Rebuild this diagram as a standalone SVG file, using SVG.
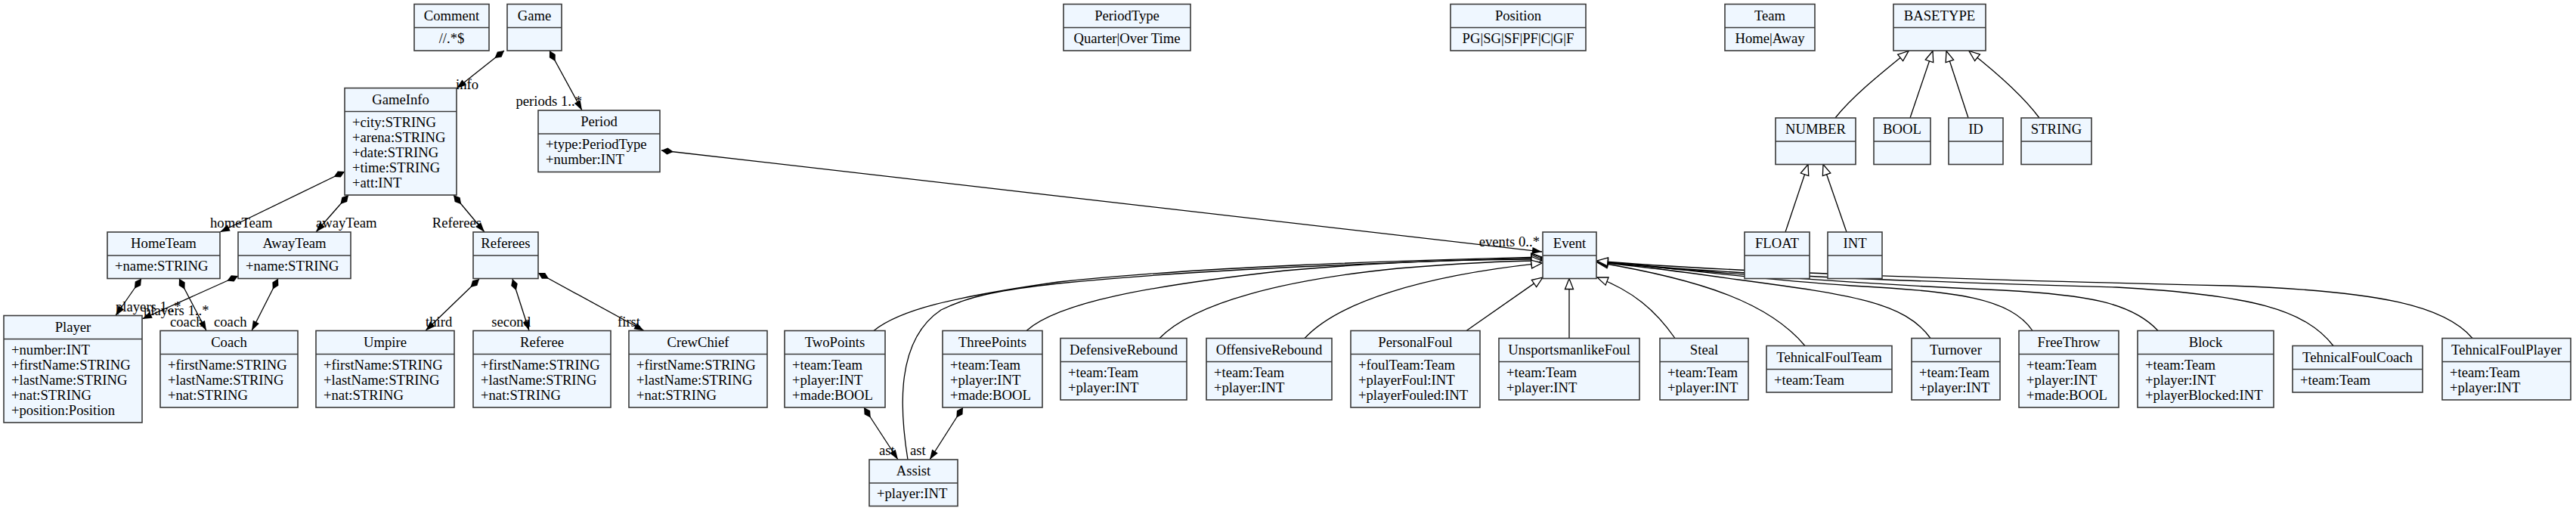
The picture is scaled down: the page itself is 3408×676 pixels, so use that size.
<svg xmlns="http://www.w3.org/2000/svg" width="3408" height="676" viewBox="0 0 3408 676">
<defs>
<style>
.box{fill:#eff7ff;stroke:#3a3a3a;stroke-width:1.6}
.sep{stroke:#3a3a3a;stroke-width:1.6}
text{font-family:"Liberation Serif","Times New Roman",serif;font-size:18.67px;fill:#000}
.h{text-anchor:middle}
.e{text-anchor:end}
.edge{fill:none;stroke:#000;stroke-width:1.3}
.comp{marker-start:url(#dia);marker-end:url(#arr)}
.gen{marker-end:url(#tri)}
</style>
<marker id="dia" markerUnits="userSpaceOnUse" orient="auto" refX="0" refY="0" markerWidth="1" markerHeight="1" style="overflow:visible"><path d="M0,0 L8,-4.5 L16,0 L8,4.5 Z" fill="#000"/></marker>
<marker id="arr" markerUnits="userSpaceOnUse" orient="auto" refX="0" refY="0" markerWidth="1" markerHeight="1" style="overflow:visible"><path d="M-13,-4.5 L0,0 L-13,4.5 Z" fill="#000"/></marker>
<marker id="tri" markerUnits="userSpaceOnUse" orient="auto" refX="0" refY="0" markerWidth="1" markerHeight="1" style="overflow:visible"><path d="M-14,-5.5 L0,0 L-14,5.5 Z" fill="#fff" stroke="#000" stroke-width="1.3"/></marker>
</defs>
<rect width="3408" height="676" fill="#fff"/>

<g id="connectors">
<path class="edge comp" d="M667,67 L604,117"/>
<path class="edge comp" d="M727,67 L770,146"/>
<path class="edge comp" d="M875,199 L2040,333"/>
<path class="edge comp" d="M456,227 L291,307"/>
<path class="edge comp" d="M461,258 L418,307"/>
<path class="edge comp" d="M600,258 L641,307"/>
<path class="edge comp" d="M187,368.5 L153,417.5"/>
<path class="edge comp" d="M237,368.5 L273,437.5"/>
<path class="edge comp" d="M315,365 L188,422"/>
<path class="edge comp" d="M368,368.5 L333,437.5"/>
<path class="edge comp" d="M634,369 L563,437.5"/>
<path class="edge comp" d="M678,369 L700,437.5"/>
<path class="edge comp" d="M712,361 L852,437.5"/>
<path class="edge comp" d="M1143,539 L1188,608"/>
<path class="edge comp" d="M1274,539 L1230,608"/>

<path class="edge gen" d="M2428,156 C2452,126 2490,96 2525,67.5"/>
<path class="edge gen" d="M2527,156 L2557,67.5"/>
<path class="edge gen" d="M2604,156 L2575,67.5"/>
<path class="edge gen" d="M2698,156 C2675,125 2640,95 2605,67.5"/>
<path class="edge gen" d="M2362,307 L2392,217.5"/>
<path class="edge gen" d="M2443,307 L2412,217.5"/>

<path class="edge gen" d="M1156,437.5 C1190,410 1260,393 1400,373 C1600,352 1850,345 2040,340"/>
<path class="edge gen" d="M1201,608 C1190,540 1185,450 1245,410 C1285,390 1330,383 1400,375 C1600,355 1850,347 2040,341"/>
<path class="edge gen" d="M1358,437.5 C1400,400 1520,378 1700,358 C1850,345 1950,343 2040,343"/>
<path class="edge gen" d="M1534,447.5 C1580,400 1700,370 1850,355 C1950,347 2000,345 2040,345"/>
<path class="edge gen" d="M1726,447.5 C1770,400 1880,365 2040,348"/>
<path class="edge gen" d="M1940,437.5 L2041,367"/>
<path class="edge gen" d="M2076,447.5 L2076,368.5"/>
<path class="edge gen" d="M2216,447.5 C2190,410 2160,385 2113,367"/>
<path class="edge gen" d="M2388,457.5 C2340,400 2250,370 2113,347"/>
<path class="edge gen" d="M2554,447.5 C2520,400 2450,390 2300,370 C2200,356 2150,350 2113,347"/>
<path class="edge gen" d="M2689,437.5 C2660,395 2590,385 2450,378 C2300,368 2200,352 2113,346"/>
<path class="edge gen" d="M2855,437.5 C2820,400 2760,390 2650,384 C2450,375 2250,360 2113,346"/>
<path class="edge gen" d="M3087,457.5 C3050,410 2980,390 2800,380 C2500,372 2250,360 2113,346"/>
<path class="edge gen" d="M3271,447.5 C3235,405 3150,385 2950,378 C2600,370 2250,358 2113,345"/>

<text x="603" y="117.5">info</text>
<text class="e" x="770" y="140">periods 1..*</text>
<text class="e" x="2037" y="326">events 0..*</text>
<text x="278" y="301">homeTeam</text>
<text x="418" y="301">awayTeam</text>
<text class="e" x="637" y="301">Referees</text>
<text x="153" y="412">players 1..*</text>
<text x="225" y="432">coach</text>
<text x="190" y="417">players 1..*</text>
<text x="283" y="432">coach</text>
<text x="563" y="432">third</text>
<text class="e" x="702" y="432">second</text>
<text x="817" y="432">first</text>
<text x="1163" y="602">ast</text>
<text x="1204" y="602">ast</text>
</g>

<g id="Comment"><rect class="box" x="548" y="5.5" width="99" height="61.5"/><line class="sep" x1="548" y1="36.5" x2="647" y2="36.5"/><text class="h" x="597.5" y="26.5">Comment</text><text class="h" x="597.5" y="56.5" fill="#444">//.*$</text></g>
<g id="Game"><rect class="box" x="671" y="5.5" width="72" height="61.5"/><line class="sep" x1="671" y1="36.5" x2="743" y2="36.5"/><text class="h" x="707" y="26.5">Game</text></g>
<g id="PeriodType"><rect class="box" x="1407" y="5.5" width="168" height="61.5"/><line class="sep" x1="1407" y1="36.5" x2="1575" y2="36.5"/><text class="h" x="1491" y="26.5">PeriodType</text><text class="h" x="1491" y="56.5">Quarter|Over Time</text></g>
<g id="Position"><rect class="box" x="1919" y="5.5" width="179" height="61.5"/><line class="sep" x1="1919" y1="36.5" x2="2098" y2="36.5"/><text class="h" x="2008.5" y="26.5">Position</text><text class="h" x="2008.5" y="56.5">PG|SG|SF|PF|C|G|F</text></g>
<g id="Team"><rect class="box" x="2282" y="5.5" width="119" height="61.5"/><line class="sep" x1="2282" y1="36.5" x2="2401" y2="36.5"/><text class="h" x="2341.5" y="26.5">Team</text><text class="h" x="2341.5" y="56.5">Home|Away</text></g>
<g id="BASETYPE"><rect class="box" x="2505" y="5.5" width="122" height="61.5"/><line class="sep" x1="2505" y1="36.5" x2="2627" y2="36.5"/><text class="h" x="2566" y="26.5">BASETYPE</text></g>

<g id="GameInfo"><rect class="box" x="456" y="116.5" width="148" height="141.5"/><line class="sep" x1="456" y1="147.5" x2="604" y2="147.5"/><text class="h" x="530" y="137.5">GameInfo</text><text x="466" y="167.5">+city:STRING</text><text x="466" y="187.5">+arena:STRING</text><text x="466" y="207.5">+date:STRING</text><text x="466" y="227.5">+time:STRING</text><text x="466" y="247.5">+att:INT</text></g>
<g id="Period"><rect class="box" x="712" y="146" width="161" height="81.5"/><line class="sep" x1="712" y1="177" x2="873" y2="177"/><text class="h" x="792.5" y="167">Period</text><text x="722" y="197">+type:PeriodType</text><text x="722" y="217">+number:INT</text></g>

<g id="NUMBER"><rect class="box" x="2349" y="156" width="106" height="61.5"/><line class="sep" x1="2349" y1="187" x2="2455" y2="187"/><text class="h" x="2402" y="177">NUMBER</text></g>
<g id="BOOL"><rect class="box" x="2479" y="156" width="75" height="61.5"/><line class="sep" x1="2479" y1="187" x2="2554" y2="187"/><text class="h" x="2516.5" y="177">BOOL</text></g>
<g id="ID"><rect class="box" x="2578" y="156" width="72" height="61.5"/><line class="sep" x1="2578" y1="187" x2="2650" y2="187"/><text class="h" x="2614" y="177">ID</text></g>
<g id="STRING"><rect class="box" x="2674" y="156" width="93" height="61.5"/><line class="sep" x1="2674" y1="187" x2="2767" y2="187"/><text class="h" x="2720.5" y="177">STRING</text></g>

<g id="HomeTeam"><rect class="box" x="142" y="307" width="149" height="61.5"/><line class="sep" x1="142" y1="338" x2="291" y2="338"/><text class="h" x="216.5" y="328">HomeTeam</text><text x="152" y="358">+name:STRING</text></g>
<g id="AwayTeam"><rect class="box" x="315" y="307" width="149" height="61.5"/><line class="sep" x1="315" y1="338" x2="464" y2="338"/><text class="h" x="389.5" y="328">AwayTeam</text><text x="325" y="358">+name:STRING</text></g>
<g id="Referees"><rect class="box" x="626" y="307" width="86" height="61.5"/><line class="sep" x1="626" y1="338" x2="712" y2="338"/><text class="h" x="669" y="328">Referees</text></g>
<g id="Event"><rect class="box" x="2041" y="307" width="71" height="61.5"/><line class="sep" x1="2041" y1="338" x2="2112" y2="338"/><text class="h" x="2076.5" y="328">Event</text></g>
<g id="FLOAT"><rect class="box" x="2308" y="307" width="86" height="61.5"/><line class="sep" x1="2308" y1="338" x2="2394" y2="338"/><text class="h" x="2351" y="328">FLOAT</text></g>
<g id="INT"><rect class="box" x="2418" y="307" width="72" height="61.5"/><line class="sep" x1="2418" y1="338" x2="2490" y2="338"/><text class="h" x="2454" y="328">INT</text></g>

<g id="Player"><rect class="box" x="5" y="417.5" width="183" height="141.5"/><line class="sep" x1="5" y1="448.5" x2="188" y2="448.5"/><text class="h" x="96.5" y="438.5">Player</text><text x="15" y="468.5">+number:INT</text><text x="15" y="488.5">+firstName:STRING</text><text x="15" y="508.5">+lastName:STRING</text><text x="15" y="528.5">+nat:STRING</text><text x="15" y="548.5">+position:Position</text></g>
<g id="Coach"><rect class="box" x="212" y="437.5" width="182" height="101.5"/><line class="sep" x1="212" y1="468.5" x2="394" y2="468.5"/><text class="h" x="303" y="458.5">Coach</text><text x="222" y="488.5">+firstName:STRING</text><text x="222" y="508.5">+lastName:STRING</text><text x="222" y="528.5">+nat:STRING</text></g>
<g id="Umpire"><rect class="box" x="418" y="437.5" width="183" height="101.5"/><line class="sep" x1="418" y1="468.5" x2="601" y2="468.5"/><text class="h" x="509.5" y="458.5">Umpire</text><text x="428" y="488.5">+firstName:STRING</text><text x="428" y="508.5">+lastName:STRING</text><text x="428" y="528.5">+nat:STRING</text></g>
<g id="Referee"><rect class="box" x="626" y="437.5" width="182" height="101.5"/><line class="sep" x1="626" y1="468.5" x2="808" y2="468.5"/><text class="h" x="717" y="458.5">Referee</text><text x="636" y="488.5">+firstName:STRING</text><text x="636" y="508.5">+lastName:STRING</text><text x="636" y="528.5">+nat:STRING</text></g>
<g id="CrewChief"><rect class="box" x="832" y="437.5" width="183" height="101.5"/><line class="sep" x1="832" y1="468.5" x2="1015" y2="468.5"/><text class="h" x="923.5" y="458.5">CrewChief</text><text x="842" y="488.5">+firstName:STRING</text><text x="842" y="508.5">+lastName:STRING</text><text x="842" y="528.5">+nat:STRING</text></g>
<g id="TwoPoints"><rect class="box" x="1038" y="437.5" width="133" height="101.5"/><line class="sep" x1="1038" y1="468.5" x2="1171" y2="468.5"/><text class="h" x="1104.5" y="458.5">TwoPoints</text><text x="1048" y="488.5">+team:Team</text><text x="1048" y="508.5">+player:INT</text><text x="1048" y="528.5">+made:BOOL</text></g>
<g id="ThreePoints"><rect class="box" x="1247" y="437.5" width="132" height="101.5"/><line class="sep" x1="1247" y1="468.5" x2="1379" y2="468.5"/><text class="h" x="1313" y="458.5">ThreePoints</text><text x="1257" y="488.5">+team:Team</text><text x="1257" y="508.5">+player:INT</text><text x="1257" y="528.5">+made:BOOL</text></g>
<g id="DefensiveRebound"><rect class="box" x="1403" y="447.5" width="167" height="81.5"/><line class="sep" x1="1403" y1="478.5" x2="1570" y2="478.5"/><text class="h" x="1486.5" y="468.5">DefensiveRebound</text><text x="1413" y="498.5">+team:Team</text><text x="1413" y="518.5">+player:INT</text></g>
<g id="OffensiveRebound"><rect class="box" x="1596" y="447.5" width="166" height="81.5"/><line class="sep" x1="1596" y1="478.5" x2="1762" y2="478.5"/><text class="h" x="1679" y="468.5">OffensiveRebound</text><text x="1606" y="498.5">+team:Team</text><text x="1606" y="518.5">+player:INT</text></g>
<g id="PersonalFoul"><rect class="box" x="1787" y="437.5" width="171" height="101.5"/><line class="sep" x1="1787" y1="468.5" x2="1958" y2="468.5"/><text class="h" x="1872.5" y="458.5">PersonalFoul</text><text x="1797" y="488.5">+foulTeam:Team</text><text x="1797" y="508.5">+playerFoul:INT</text><text x="1797" y="528.5">+playerFouled:INT</text></g>
<g id="UnsportsmanlikeFoul"><rect class="box" x="1983" y="447.5" width="186" height="81.5"/><line class="sep" x1="1983" y1="478.5" x2="2169" y2="478.5"/><text class="h" x="2076" y="468.5">UnsportsmanlikeFoul</text><text x="1993" y="498.5">+team:Team</text><text x="1993" y="518.5">+player:INT</text></g>
<g id="Steal"><rect class="box" x="2196" y="447.5" width="117" height="81.5"/><line class="sep" x1="2196" y1="478.5" x2="2313" y2="478.5"/><text class="h" x="2254.5" y="468.5">Steal</text><text x="2206" y="498.5">+team:Team</text><text x="2206" y="518.5">+player:INT</text></g>
<g id="TehnicalFoulTeam"><rect class="box" x="2337" y="457.5" width="166" height="61.5"/><line class="sep" x1="2337" y1="488.5" x2="2503" y2="488.5"/><text class="h" x="2420" y="478.5">TehnicalFoulTeam</text><text x="2347" y="508.5">+team:Team</text></g>
<g id="Turnover"><rect class="box" x="2529" y="447.5" width="117" height="81.5"/><line class="sep" x1="2529" y1="478.5" x2="2646" y2="478.5"/><text class="h" x="2587.5" y="468.5">Turnover</text><text x="2539" y="498.5">+team:Team</text><text x="2539" y="518.5">+player:INT</text></g>
<g id="FreeThrow"><rect class="box" x="2671" y="437.5" width="132" height="101.5"/><line class="sep" x1="2671" y1="468.5" x2="2803" y2="468.5"/><text class="h" x="2737" y="458.5">FreeThrow</text><text x="2681" y="488.5">+team:Team</text><text x="2681" y="508.5">+player:INT</text><text x="2681" y="528.5">+made:BOOL</text></g>
<g id="Block"><rect class="box" x="2828" y="437.5" width="180" height="101.5"/><line class="sep" x1="2828" y1="468.5" x2="3008" y2="468.5"/><text class="h" x="2918" y="458.5">Block</text><text x="2838" y="488.5">+team:Team</text><text x="2838" y="508.5">+player:INT</text><text x="2838" y="528.5">+playerBlocked:INT</text></g>
<g id="TehnicalFoulCoach"><rect class="box" x="3033" y="457.5" width="172" height="61.5"/><line class="sep" x1="3033" y1="488.5" x2="3205" y2="488.5"/><text class="h" x="3119" y="478.5">TehnicalFoulCoach</text><text x="3043" y="508.5">+team:Team</text></g>
<g id="TehnicalFoulPlayer"><rect class="box" x="3231" y="447.5" width="170" height="81.5"/><line class="sep" x1="3231" y1="478.5" x2="3401" y2="478.5"/><text class="h" x="3316" y="468.5">TehnicalFoulPlayer</text><text x="3241" y="498.5">+team:Team</text><text x="3241" y="518.5">+player:INT</text></g>
<g id="Assist"><rect class="box" x="1150" y="608" width="117" height="61.5"/><line class="sep" x1="1150" y1="639" x2="1267" y2="639"/><text class="h" x="1208.5" y="629">Assist</text><text x="1160" y="659">+player:INT</text></g>
</svg>
